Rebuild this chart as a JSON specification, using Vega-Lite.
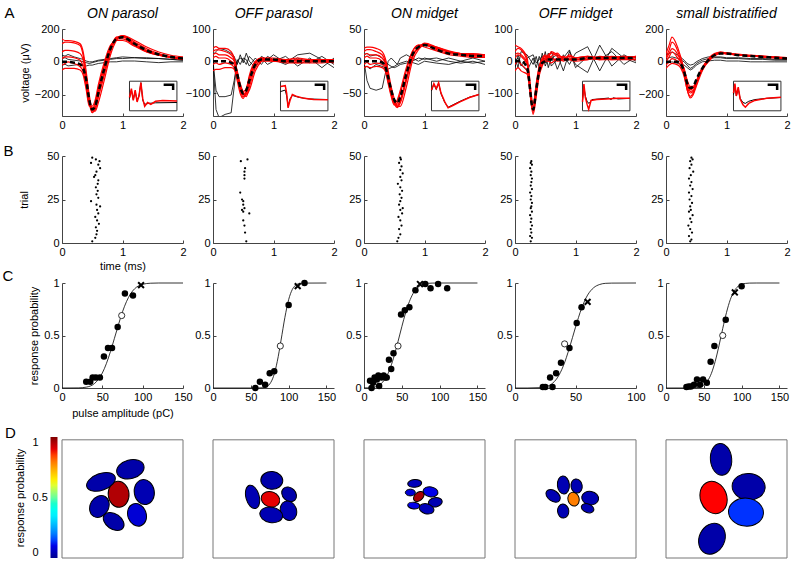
{
"$schema":"https://vega.github.io/schema/vega-lite/v6.json",
"background":"white",
"padding":{"left":2,"top":5,"right":2,"bottom":2},
"config":{
 "font":"Liberation Sans",
 "numberFormat":"~f",
 "view":{"stroke":null},
 "axis":{"grid":false,"domainColor":"#444","tickColor":"#444","labelColor":"#000","labelFontSize":11,"titleFontSize":11,"titleFontWeight":"normal","titleColor":"#000","tickSize":-3,"labelPadding":6,"labelFlush":false,"labelOverlap":false},
 "title":{"fontSize":14,"fontStyle":"italic","fontWeight":"normal","offset":2,"color":"#000","frame":"group"}
},
"datasets":{
"tr":[
{"p":1,"x":0,"m":0,"r1":110,"r2":60,"r3":-20,"r4":-50,"r5":140,"r6":20,"k1":20,"k2":-20,"k3":40},
{"p":1,"x":0.05,"m":0,"r1":120,"r2":70,"r3":-10,"r4":-40,"r5":130,"r6":30,"k1":25,"k2":-15,"k3":35},
{"p":1,"x":0.1,"m":0,"r1":120,"r2":70,"r3":0,"r4":-40,"r5":130,"r6":30,"k1":15,"k2":-25,"k3":45},
{"p":1,"x":0.2,"m":-5,"r1":115,"r2":65,"r3":-10,"r4":-40,"r5":125,"r6":25,"k1":10,"k2":-20,"k3":30},
{"p":1,"x":0.3,"m":-15,"r1":100,"r2":50,"r3":-30,"r4":-50,"r5":110,"r6":10,"k1":5,"k2":-15,"k3":20},
{"p":1,"x":0.35,"m":-40,"r1":40,"r2":10,"r3":-60,"r4":-80,"r5":60,"r6":-30,"k1":0,"k2":-20,"k3":15},
{"p":1,"x":0.4,"m":-110,"r1":-80,"r2":-100,"r3":-150,"r4":-170,"r5":-60,"r6":-120,"k1":-5,"k2":-25,"k3":5},
{"p":1,"x":0.45,"m":-230,"r1":-220,"r2":-240,"r3":-260,"r4":-270,"r5":-200,"r6":-250,"k1":-10,"k2":-20,"k3":0},
{"p":1,"x":0.5,"m":-290,"r1":-310,"r2":-300,"r3":-280,"r4":-270,"r5":-290,"r6":-310,"k1":-5,"k2":-20,"k3":0},
{"p":1,"x":0.55,"m":-270,"r1":-290,"r2":-280,"r3":-250,"r4":-230,"r5":-300,"r6":-260,"k1":0,"k2":-15,"k3":5},
{"p":1,"x":0.6,"m":-190,"r1":-220,"r2":-200,"r3":-160,"r4":-140,"r5":-250,"r6":-180,"k1":5,"k2":-10,"k3":10},
{"p":1,"x":0.7,"m":-40,"r1":-80,"r2":-60,"r3":-20,"r4":0,"r5":-110,"r6":-30,"k1":10,"k2":-5,"k3":15},
{"p":1,"x":0.8,"m":80,"r1":60,"r2":70,"r3":90,"r4":100,"r5":40,"r6":80,"k1":15,"k2":0,"k3":20},
{"p":1,"x":0.9,"m":140,"r1":140,"r2":150,"r3":140,"r4":130,"r5":130,"r6":150,"k1":20,"k2":0,"k3":25},
{"p":1,"x":1,"m":150,"r1":160,"r2":155,"r3":140,"r4":130,"r5":160,"r6":150,"k1":20,"k2":5,"k3":30},
{"p":1,"x":1.2,"m":110,"r1":120,"r2":110,"r3":100,"r4":95,"r5":130,"r6":105,"k1":25,"k2":5,"k3":25},
{"p":1,"x":1.4,"m":70,"r1":80,"r2":70,"r3":60,"r4":60,"r5":90,"r6":65,"k1":25,"k2":0,"k3":20},
{"p":1,"x":1.6,"m":45,"r1":50,"r2":45,"r3":40,"r4":40,"r5":60,"r6":40,"k1":20,"k2":-5,"k3":20},
{"p":1,"x":1.8,"m":30,"r1":30,"r2":30,"r3":25,"r4":30,"r5":40,"r6":25,"k1":15,"k2":0,"k3":15},
{"p":1,"x":2,"m":20,"r1":25,"r2":20,"r3":15,"r4":20,"r5":30,"r6":15,"k1":10,"k2":0,"k3":10},
{"p":2,"x":0,"m":0,"r1":30,"r2":-30,"r3":10,"r4":40,"r5":-10,"r6":20,"k1":0,"k2":0,"k3":20},
{"p":2,"x":0.05,"m":0,"r1":35,"r2":-25,"r3":15,"r4":45,"r5":-5,"r6":25,"k1":-90,"k2":-150,"k3":30},
{"p":2,"x":0.1,"m":0,"r1":35,"r2":-25,"r3":10,"r4":40,"r5":-10,"r6":20,"k1":-110,"k2":-175,"k3":40},
{"p":2,"x":0.2,"m":0,"r1":30,"r2":-20,"r3":10,"r4":40,"r5":-5,"r6":20,"k1":-110,"k2":-165,"k3":35},
{"p":2,"x":0.3,"m":-5,"r1":20,"r2":-20,"r3":0,"r4":30,"r5":-10,"r6":10,"k1":-105,"k2":-160,"k3":25},
{"p":2,"x":0.35,"m":-10,"r1":5,"r2":-25,"r3":-10,"r4":10,"r5":-20,"r6":0,"k1":-60,"k2":-80,"k3":15},
{"p":2,"x":0.4,"m":-40,"r1":-40,"r2":-50,"r3":-40,"r4":-30,"r5":-60,"r6":-35,"k1":0,"k2":5,"k3":-10},
{"p":2,"x":0.45,"m":-80,"r1":-90,"r2":-80,"r3":-80,"r4":-70,"r5":-100,"r6":-85,"k1":10,"k2":-10,"k3":20},
{"p":2,"x":0.5,"m":-100,"r1":-110,"r2":-100,"r3":-95,"r4":-95,"r5":-115,"r6":-105,"k1":5,"k2":10,"k3":-5},
{"p":2,"x":0.55,"m":-90,"r1":-100,"r2":-110,"r3":-85,"r4":-105,"r5":-90,"r6":-100,"k1":-10,"k2":5,"k3":25},
{"p":2,"x":0.6,"m":-60,"r1":-60,"r2":-80,"r3":-50,"r4":-90,"r5":-45,"r6":-70,"k1":15,"k2":-15,"k3":0},
{"p":2,"x":0.7,"m":-10,"r1":-5,"r2":-20,"r3":-5,"r4":-30,"r5":0,"r6":-10,"k1":-5,"k2":10,"k3":-20},
{"p":2,"x":0.8,"m":5,"r1":10,"r2":0,"r3":10,"r4":0,"r5":10,"r6":5,"k1":10,"k2":-10,"k3":15},
{"p":2,"x":0.9,"m":5,"r1":10,"r2":0,"r3":5,"r4":10,"r5":5,"r6":5,"k1":-10,"k2":15,"k3":5},
{"p":2,"x":1,"m":5,"r1":5,"r2":0,"r3":5,"r4":10,"r5":0,"r6":0,"k1":0,"k2":5,"k3":20},
{"p":2,"x":1.2,"m":0,"r1":5,"r2":-5,"r3":0,"r4":5,"r5":0,"r6":5,"k1":15,"k2":-10,"k3":-5},
{"p":2,"x":1.4,"m":0,"r1":0,"r2":-5,"r3":5,"r4":10,"r5":-5,"r6":0,"k1":-15,"k2":10,"k3":20},
{"p":2,"x":1.6,"m":0,"r1":5,"r2":0,"r3":0,"r4":5,"r5":-5,"r6":5,"k1":10,"k2":-5,"k3":25},
{"p":2,"x":1.8,"m":0,"r1":0,"r2":0,"r3":5,"r4":5,"r5":-5,"r6":0,"k1":-20,"k2":15,"k3":5},
{"p":2,"x":2,"m":0,"r1":5,"r2":-5,"r3":0,"r4":5,"r5":0,"r6":0,"k1":10,"k2":-10,"k3":-20},
{"p":3,"x":0,"m":0,"r1":15,"r2":-10,"r3":5,"r4":20,"r5":-5,"r6":10,"k1":0,"k2":10,"k3":-10},
{"p":3,"x":0.05,"m":0,"r1":18,"r2":-8,"r3":8,"r4":22,"r5":-2,"r6":12,"k1":-30,"k2":12,"k3":-8},
{"p":3,"x":0.1,"m":0,"r1":18,"r2":-10,"r3":5,"r4":22,"r5":-5,"r6":10,"k1":-42,"k2":8,"k3":-12},
{"p":3,"x":0.2,"m":0,"r1":15,"r2":-8,"r3":5,"r4":20,"r5":-3,"r6":10,"k1":-45,"k2":10,"k3":-5},
{"p":3,"x":0.3,"m":-2,"r1":10,"r2":-10,"r3":0,"r4":15,"r5":-5,"r6":5,"k1":-42,"k2":5,"k3":-8},
{"p":3,"x":0.35,"m":-8,"r1":0,"r2":-15,"r3":-8,"r4":5,"r5":-12,"r6":-3,"k1":-20,"k2":0,"k3":-10},
{"p":3,"x":0.4,"m":-25,"r1":-20,"r2":-35,"r3":-28,"r4":-15,"r5":-32,"r6":-22,"k1":0,"k2":-5,"k3":-12},
{"p":3,"x":0.45,"m":-45,"r1":-45,"r2":-55,"r3":-50,"r4":-40,"r5":-52,"r6":-48,"k1":5,"k2":-8,"k3":-10},
{"p":3,"x":0.5,"m":-60,"r1":-65,"r2":-68,"r3":-62,"r4":-58,"r5":-66,"r6":-64,"k1":0,"k2":-10,"k3":-8},
{"p":3,"x":0.55,"m":-65,"r1":-72,"r2":-65,"r3":-68,"r4":-70,"r5":-60,"r6":-70,"k1":-5,"k2":-8,"k3":-5},
{"p":3,"x":0.6,"m":-55,"r1":-65,"r2":-50,"r3":-60,"r4":-70,"r5":-45,"r6":-62,"k1":5,"k2":-5,"k3":-3},
{"p":3,"x":0.7,"m":-20,"r1":-30,"r2":-15,"r3":-25,"r4":-40,"r5":-10,"r6":-28,"k1":10,"k2":-3,"k3":0},
{"p":3,"x":0.8,"m":10,"r1":5,"r2":15,"r3":8,"r4":0,"r5":15,"r6":8,"k1":5,"k2":0,"k3":-2},
{"p":3,"x":0.9,"m":22,"r1":22,"r2":25,"r3":20,"r4":18,"r5":25,"r6":22,"k1":0,"k2":5,"k3":-5},
{"p":3,"x":1,"m":25,"r1":27,"r2":25,"r3":28,"r4":25,"r5":22,"r6":26,"k1":5,"k2":3,"k3":0},
{"p":3,"x":1.2,"m":18,"r1":20,"r2":18,"r3":22,"r4":22,"r5":16,"r6":20,"k1":0,"k2":5,"k3":-3},
{"p":3,"x":1.4,"m":12,"r1":15,"r2":12,"r3":15,"r4":16,"r5":10,"r6":14,"k1":5,"k2":0,"k3":-5},
{"p":3,"x":1.6,"m":10,"r1":12,"r2":10,"r3":12,"r4":12,"r5":8,"r6":10,"k1":0,"k2":-3,"k3":0},
{"p":3,"x":1.8,"m":8,"r1":10,"r2":8,"r3":12,"r4":10,"r5":6,"r6":10,"k1":5,"k2":0,"k3":-3},
{"p":3,"x":2,"m":8,"r1":10,"r2":8,"r3":10,"r4":10,"r5":6,"r6":8,"k1":0,"k2":-5,"k3":0},
{"p":4,"x":0,"m":0,"r1":30,"r2":-30,"r3":10,"r4":50,"r5":-10,"r6":20,"k1":10,"k2":-20,"k3":0},
{"p":4,"x":0.05,"m":0,"r1":40,"r2":-20,"r3":20,"r4":45,"r5":0,"r6":25,"k1":-20,"k2":20,"k3":10},
{"p":4,"x":0.1,"m":0,"r1":35,"r2":-30,"r3":15,"r4":40,"r5":-10,"r6":20,"k1":30,"k2":-10,"k3":-15},
{"p":4,"x":0.2,"m":-20,"r1":0,"r2":-40,"r3":-10,"r4":10,"r5":-30,"r6":-5,"k1":20,"k2":-30,"k3":10},
{"p":4,"x":0.3,"m":-150,"r1":-160,"r2":-140,"r3":-155,"r4":-130,"r5":-165,"r6":-145,"k1":-10,"k2":10,"k3":20},
{"p":4,"x":0.35,"m":-90,"r1":-100,"r2":-70,"r3":-95,"r4":-80,"r5":-110,"r6":-85,"k1":15,"k2":-20,"k3":-5},
{"p":4,"x":0.4,"m":-30,"r1":-30,"r2":-15,"r3":-35,"r4":-20,"r5":-45,"r6":-25,"k1":-20,"k2":15,"k3":5},
{"p":4,"x":0.45,"m":-5,"r1":0,"r2":5,"r3":-10,"r4":10,"r5":-15,"r6":0,"k1":25,"k2":-10,"k3":15},
{"p":4,"x":0.5,"m":0,"r1":10,"r2":15,"r3":5,"r4":20,"r5":0,"r6":5,"k1":-15,"k2":30,"k3":-5},
{"p":4,"x":0.55,"m":5,"r1":15,"r2":5,"r3":20,"r4":10,"r5":0,"r6":10,"k1":10,"k2":-20,"k3":25},
{"p":4,"x":0.6,"m":5,"r1":10,"r2":10,"r3":25,"r4":30,"r5":-5,"r6":15,"k1":30,"k2":10,"k3":-15},
{"p":4,"x":0.7,"m":5,"r1":5,"r2":0,"r3":15,"r4":20,"r5":10,"r6":25,"k1":-25,"k2":20,"k3":5},
{"p":4,"x":0.8,"m":5,"r1":10,"r2":5,"r3":0,"r4":10,"r5":15,"r6":5,"k1":20,"k2":-30,"k3":10},
{"p":4,"x":0.9,"m":5,"r1":5,"r2":10,"r3":10,"r4":15,"r5":5,"r6":20,"k1":-10,"k2":30,"k3":35},
{"p":4,"x":1,"m":5,"r1":10,"r2":5,"r3":5,"r4":10,"r5":0,"r6":10,"k1":25,"k2":-10,"k3":-20},
{"p":4,"x":1.2,"m":10,"r1":15,"r2":10,"r3":5,"r4":10,"r5":5,"r6":15,"k1":45,"k2":-35,"k3":15},
{"p":4,"x":1.4,"m":10,"r1":10,"r2":5,"r3":15,"r4":5,"r5":10,"r6":10,"k1":-30,"k2":50,"k3":5},
{"p":4,"x":1.6,"m":10,"r1":15,"r2":10,"r3":10,"r4":5,"r5":5,"r6":10,"k1":40,"k2":-15,"k3":30},
{"p":4,"x":1.8,"m":10,"r1":10,"r2":15,"r3":10,"r4":10,"r5":5,"r6":15,"k1":10,"k2":20,"k3":-10},
{"p":4,"x":2,"m":10,"r1":15,"r2":10,"r3":5,"r4":15,"r5":5,"r6":10,"k1":-5,"k2":0,"k3":15},
{"p":5,"x":0,"m":0,"r1":50,"r2":30,"r3":-20,"r4":0,"r5":-40,"r6":20,"k1":20,"k2":-10,"k3":40},
{"p":5,"x":0.05,"m":0,"r1":100,"r2":70,"r3":0,"r4":30,"r5":-20,"r6":50,"k1":25,"k2":-5,"k3":50},
{"p":5,"x":0.1,"m":0,"r1":150,"r2":120,"r3":20,"r4":60,"r5":-10,"r6":80,"k1":30,"k2":0,"k3":60},
{"p":5,"x":0.2,"m":0,"r1":80,"r2":60,"r3":0,"r4":20,"r5":-20,"r6":40,"k1":20,"k2":-10,"k3":40},
{"p":5,"x":0.3,"m":-60,"r1":-50,"r2":-80,"r3":-70,"r4":-40,"r5":-90,"r6":-60,"k1":0,"k2":-20,"k3":10},
{"p":5,"x":0.35,"m":-130,"r1":-150,"r2":-170,"r3":-140,"r4":-110,"r5":-170,"r6":-130,"k1":-20,"k2":-35,"k3":-10},
{"p":5,"x":0.4,"m":-160,"r1":-190,"r2":-210,"r3":-170,"r4":-150,"r5":-220,"r6":-180,"k1":-40,"k2":-50,"k3":-20},
{"p":5,"x":0.45,"m":-150,"r1":-180,"r2":-190,"r3":-160,"r4":-150,"r5":-200,"r6":-175,"k1":-30,"k2":-40,"k3":-15},
{"p":5,"x":0.5,"m":-110,"r1":-130,"r2":-140,"r3":-120,"r4":-120,"r5":-150,"r6":-130,"k1":-10,"k2":-20,"k3":0},
{"p":5,"x":0.55,"m":-70,"r1":-80,"r2":-90,"r3":-70,"r4":-80,"r5":-100,"r6":-80,"k1":0,"k2":-10,"k3":10},
{"p":5,"x":0.6,"m":-40,"r1":-40,"r2":-50,"r3":-35,"r4":-45,"r5":-55,"r6":-40,"k1":10,"k2":0,"k3":20},
{"p":5,"x":0.7,"m":10,"r1":20,"r2":10,"r3":15,"r4":0,"r5":5,"r6":15,"k1":20,"k2":5,"k3":30},
{"p":5,"x":0.8,"m":40,"r1":50,"r2":40,"r3":45,"r4":35,"r5":45,"r6":45,"k1":25,"k2":10,"k3":30},
{"p":5,"x":0.9,"m":50,"r1":60,"r2":55,"r3":55,"r4":50,"r5":60,"r6":55,"k1":25,"k2":10,"k3":30},
{"p":5,"x":1,"m":50,"r1":55,"r2":50,"r3":50,"r4":50,"r5":55,"r6":50,"k1":20,"k2":5,"k3":25},
{"p":5,"x":1.2,"m":40,"r1":45,"r2":40,"r3":40,"r4":40,"r5":45,"r6":40,"k1":20,"k2":5,"k3":25},
{"p":5,"x":1.4,"m":35,"r1":40,"r2":35,"r3":35,"r4":35,"r5":40,"r6":35,"k1":15,"k2":0,"k3":20},
{"p":5,"x":1.6,"m":30,"r1":35,"r2":30,"r3":30,"r4":30,"r5":35,"r6":30,"k1":15,"k2":0,"k3":20},
{"p":5,"x":1.8,"m":25,"r1":30,"r2":25,"r3":25,"r4":25,"r5":30,"r6":25,"k1":10,"k2":0,"k3":15},
{"p":5,"x":2,"m":20,"r1":25,"r2":25,"r3":20,"r4":20,"r5":25,"r6":20,"k1":10,"k2":0,"k3":15}
],
"ins":[
{"p":1,"g":"r","u":0,"v":0.45},{"p":1,"g":"r","u":0.04,"v":0.75},{"p":1,"g":"r","u":0.08,"v":0.35},{"p":1,"g":"r","u":0.12,"v":0.7},{"p":1,"g":"r","u":0.16,"v":0.3},{"p":1,"g":"r","u":0.2,"v":0.5},{"p":1,"g":"r","u":0.24,"v":0.95},{"p":1,"g":"r","u":0.28,"v":0.4},{"p":1,"g":"r","u":0.32,"v":0.15},{"p":1,"g":"r","u":0.38,"v":0.28},{"p":1,"g":"r","u":0.45,"v":0.22},{"p":1,"g":"r","u":0.55,"v":0.32},{"p":1,"g":"r","u":0.7,"v":0.35},{"p":1,"g":"r","u":1,"v":0.33},
{"p":1,"g":"k","u":0,"v":0.42},{"p":1,"g":"k","u":0.04,"v":0.7},{"p":1,"g":"k","u":0.08,"v":0.38},{"p":1,"g":"k","u":0.12,"v":0.65},{"p":1,"g":"k","u":0.16,"v":0.35},{"p":1,"g":"k","u":0.2,"v":0.5},{"p":1,"g":"k","u":0.24,"v":0.95},{"p":1,"g":"k","u":0.28,"v":0.35},{"p":1,"g":"k","u":0.32,"v":0.22},{"p":1,"g":"k","u":0.4,"v":0.25},{"p":1,"g":"k","u":0.55,"v":0.27},{"p":1,"g":"k","u":1,"v":0.28},
{"p":2,"g":"r","u":0,"v":0.82},{"p":2,"g":"r","u":0.1,"v":0.85},{"p":2,"g":"r","u":0.13,"v":0.6},{"p":2,"g":"r","u":0.16,"v":0.1},{"p":2,"g":"r","u":0.2,"v":0.35},{"p":2,"g":"r","u":0.25,"v":0.55},{"p":2,"g":"r","u":0.35,"v":0.48},{"p":2,"g":"r","u":0.5,"v":0.42},{"p":2,"g":"r","u":0.7,"v":0.38},{"p":2,"g":"r","u":1,"v":0.37},
{"p":2,"g":"k","u":0,"v":0.65},{"p":2,"g":"k","u":0.1,"v":0.7},{"p":2,"g":"k","u":0.13,"v":0.5},{"p":2,"g":"k","u":0.16,"v":0.15},{"p":2,"g":"k","u":0.2,"v":0.4},{"p":2,"g":"k","u":0.25,"v":0.52},{"p":2,"g":"k","u":0.4,"v":0.45},{"p":2,"g":"k","u":0.6,"v":0.4},{"p":2,"g":"k","u":1,"v":0.38},
{"p":3,"g":"r","u":0,"v":0.7},{"p":3,"g":"r","u":0.05,"v":0.92},{"p":3,"g":"r","u":0.1,"v":0.75},{"p":3,"g":"r","u":0.15,"v":0.95},{"p":3,"g":"r","u":0.2,"v":0.6},{"p":3,"g":"r","u":0.28,"v":0.3},{"p":3,"g":"r","u":0.35,"v":0.1},{"p":3,"g":"r","u":0.45,"v":0.18},{"p":3,"g":"r","u":0.6,"v":0.3},{"p":3,"g":"r","u":0.8,"v":0.45},{"p":3,"g":"r","u":1,"v":0.55},
{"p":3,"g":"k","u":0,"v":0.68},{"p":3,"g":"k","u":0.05,"v":0.9},{"p":3,"g":"k","u":0.1,"v":0.72},{"p":3,"g":"k","u":0.15,"v":0.93},{"p":3,"g":"k","u":0.2,"v":0.58},{"p":3,"g":"k","u":0.28,"v":0.28},{"p":3,"g":"k","u":0.35,"v":0.12},{"p":3,"g":"k","u":0.45,"v":0.2},{"p":3,"g":"k","u":0.6,"v":0.32},{"p":3,"g":"k","u":0.8,"v":0.46},{"p":3,"g":"k","u":1,"v":0.55},
{"p":4,"g":"r","u":0,"v":0.3},{"p":4,"g":"r","u":0.03,"v":0.9},{"p":4,"g":"r","u":0.06,"v":0.45},{"p":4,"g":"r","u":0.1,"v":0.2},{"p":4,"g":"r","u":0.13,"v":0.05},{"p":4,"g":"r","u":0.18,"v":0.35},{"p":4,"g":"r","u":0.3,"v":0.38},{"p":4,"g":"r","u":0.5,"v":0.4},{"p":4,"g":"r","u":0.75,"v":0.42},{"p":4,"g":"r","u":1,"v":0.42},
{"p":4,"g":"k","u":0,"v":0.35},{"p":4,"g":"k","u":0.03,"v":0.8},{"p":4,"g":"k","u":0.06,"v":0.5},{"p":4,"g":"k","u":0.1,"v":0.3},{"p":4,"g":"k","u":0.14,"v":0.25},{"p":4,"g":"k","u":0.2,"v":0.38},{"p":4,"g":"k","u":0.35,"v":0.4},{"p":4,"g":"k","u":0.55,"v":0.43},{"p":4,"g":"k","u":0.6,"v":0.38},{"p":4,"g":"k","u":0.65,"v":0.44},{"p":4,"g":"k","u":0.75,"v":0.4},{"p":4,"g":"k","u":1,"v":0.42},
{"p":5,"g":"r","u":0,"v":0.6},{"p":5,"g":"r","u":0.03,"v":0.92},{"p":5,"g":"r","u":0.06,"v":0.5},{"p":5,"g":"r","u":0.1,"v":0.8},{"p":5,"g":"r","u":0.14,"v":0.4},{"p":5,"g":"r","u":0.2,"v":0.2},{"p":5,"g":"r","u":0.25,"v":0.12},{"p":5,"g":"r","u":0.32,"v":0.25},{"p":5,"g":"r","u":0.45,"v":0.35},{"p":5,"g":"r","u":0.7,"v":0.42},{"p":5,"g":"r","u":1,"v":0.46},
{"p":5,"g":"k","u":0,"v":0.55},{"p":5,"g":"k","u":0.03,"v":0.85},{"p":5,"g":"k","u":0.06,"v":0.5},{"p":5,"g":"k","u":0.1,"v":0.75},{"p":5,"g":"k","u":0.14,"v":0.42},{"p":5,"g":"k","u":0.2,"v":0.28},{"p":5,"g":"k","u":0.25,"v":0.25},{"p":5,"g":"k","u":0.32,"v":0.32},{"p":5,"g":"k","u":0.45,"v":0.38},{"p":5,"g":"k","u":0.7,"v":0.42},{"p":5,"g":"k","u":1,"v":0.45},
{"p":1,"g":"s","u":0.72,"v":0.88},{"p":1,"g":"s","u":0.92,"v":0.88},{"p":1,"g":"s","u":0.92,"v":0.7},
{"p":2,"g":"s","u":0.72,"v":0.88},{"p":2,"g":"s","u":0.92,"v":0.88},{"p":2,"g":"s","u":0.92,"v":0.7},
{"p":3,"g":"s","u":0.72,"v":0.88},{"p":3,"g":"s","u":0.92,"v":0.88},{"p":3,"g":"s","u":0.92,"v":0.7},
{"p":4,"g":"s","u":0.72,"v":0.88},{"p":4,"g":"s","u":0.92,"v":0.88},{"p":4,"g":"s","u":0.92,"v":0.7},
{"p":5,"g":"s","u":0.72,"v":0.88},{"p":5,"g":"s","u":0.92,"v":0.88},{"p":5,"g":"s","u":0.92,"v":0.7}
],
"ras":[
{"p":1,"n":1,"t":0.5},{"p":1,"n":3,"t":0.55},{"p":1,"n":5,"t":0.57},{"p":1,"n":7,"t":0.58},{"p":1,"n":9,"t":0.56},{"p":1,"n":11,"t":0.61},{"p":1,"n":13,"t":0.58},{"p":1,"n":15,"t":0.55},{"p":1,"n":17,"t":0.6},{"p":1,"n":19,"t":0.58},{"p":1,"n":21,"t":0.63},{"p":1,"n":22,"t":0.57},{"p":1,"n":24,"t":0.48},{"p":1,"n":26,"t":0.6},{"p":1,"n":28,"t":0.57},{"p":1,"n":30,"t":0.59},{"p":1,"n":32,"t":0.56},{"p":1,"n":34,"t":0.59},{"p":1,"n":36,"t":0.6},{"p":1,"n":38,"t":0.53},{"p":1,"n":39,"t":0.55},{"p":1,"n":41,"t":0.57},{"p":1,"n":43,"t":0.63},{"p":1,"n":45,"t":0.6},{"p":1,"n":46,"t":0.48},{"p":1,"n":47,"t":0.62},{"p":1,"n":48,"t":0.56},{"p":1,"n":49,"t":0.5},
{"p":2,"n":1,"t":0.55},{"p":2,"n":6,"t":0.53},{"p":2,"n":10,"t":0.52},{"p":2,"n":13,"t":0.5},{"p":2,"n":17,"t":0.6},{"p":2,"n":18,"t":0.5},{"p":2,"n":19,"t":0.48},{"p":2,"n":20,"t":0.52},{"p":2,"n":22,"t":0.5},{"p":2,"n":24,"t":0.5},{"p":2,"n":25,"t":0.48},{"p":2,"n":29,"t":0.45},{"p":2,"n":37,"t":0.52},{"p":2,"n":39,"t":0.52},{"p":2,"n":41,"t":0.52},{"p":2,"n":43,"t":0.53},{"p":2,"n":47,"t":0.46},{"p":2,"n":48,"t":0.57},
{"p":3,"n":1,"t":0.55},{"p":3,"n":3,"t":0.57},{"p":3,"n":5,"t":0.6},{"p":3,"n":8,"t":0.58},{"p":3,"n":10,"t":0.62},{"p":3,"n":13,"t":0.6},{"p":3,"n":15,"t":0.57},{"p":3,"n":17,"t":0.63},{"p":3,"n":19,"t":0.6},{"p":3,"n":20,"t":0.64},{"p":3,"n":22,"t":0.58},{"p":3,"n":24,"t":0.6},{"p":3,"n":26,"t":0.62},{"p":3,"n":28,"t":0.59},{"p":3,"n":30,"t":0.63},{"p":3,"n":32,"t":0.6},{"p":3,"n":34,"t":0.56},{"p":3,"n":36,"t":0.62},{"p":3,"n":38,"t":0.6},{"p":3,"n":40,"t":0.64},{"p":3,"n":42,"t":0.6},{"p":3,"n":44,"t":0.62},{"p":3,"n":46,"t":0.58},{"p":3,"n":48,"t":0.61},{"p":3,"n":49,"t":0.6},
{"p":4,"n":1,"t":0.26},{"p":4,"n":3,"t":0.28},{"p":4,"n":4,"t":0.25},{"p":4,"n":6,"t":0.27},{"p":4,"n":8,"t":0.26},{"p":4,"n":10,"t":0.28},{"p":4,"n":12,"t":0.26},{"p":4,"n":14,"t":0.27},{"p":4,"n":16,"t":0.25},{"p":4,"n":18,"t":0.28},{"p":4,"n":20,"t":0.26},{"p":4,"n":21,"t":0.27},{"p":4,"n":23,"t":0.28},{"p":4,"n":25,"t":0.26},{"p":4,"n":27,"t":0.27},{"p":4,"n":29,"t":0.25},{"p":4,"n":31,"t":0.28},{"p":4,"n":33,"t":0.26},{"p":4,"n":35,"t":0.27},{"p":4,"n":37,"t":0.28},{"p":4,"n":39,"t":0.26},{"p":4,"n":41,"t":0.27},{"p":4,"n":43,"t":0.25},{"p":4,"n":45,"t":0.28},{"p":4,"n":46,"t":0.26},{"p":4,"n":47,"t":0.27},
{"p":5,"n":1,"t":0.4},{"p":5,"n":2,"t":0.42},{"p":5,"n":4,"t":0.38},{"p":5,"n":6,"t":0.43},{"p":5,"n":8,"t":0.4},{"p":5,"n":10,"t":0.37},{"p":5,"n":12,"t":0.42},{"p":5,"n":14,"t":0.4},{"p":5,"n":16,"t":0.44},{"p":5,"n":18,"t":0.38},{"p":5,"n":19,"t":0.41},{"p":5,"n":21,"t":0.4},{"p":5,"n":23,"t":0.43},{"p":5,"n":25,"t":0.39},{"p":5,"n":27,"t":0.42},{"p":5,"n":29,"t":0.38},{"p":5,"n":31,"t":0.44},{"p":5,"n":33,"t":0.4},{"p":5,"n":35,"t":0.42},{"p":5,"n":37,"t":0.38},{"p":5,"n":39,"t":0.41},{"p":5,"n":41,"t":0.45},{"p":5,"n":43,"t":0.39},{"p":5,"n":45,"t":0.42},{"p":5,"n":47,"t":0.4},{"p":5,"n":48,"t":0.44},{"p":5,"n":49,"t":0.42}
],
"fit":[
{"p":1,"x":0,"y":0},{"p":1,"x":20,"y":0.001},{"p":1,"x":30,"y":0.008},{"p":1,"x":40,"y":0.041},{"p":1,"x":45,"y":0.081},{"p":1,"x":50,"y":0.143},{"p":1,"x":55,"y":0.232},{"p":1,"x":60,"y":0.345},{"p":1,"x":65,"y":0.473},{"p":1,"x":70,"y":0.603},{"p":1,"x":75,"y":0.726},{"p":1,"x":80,"y":0.824},{"p":1,"x":85,"y":0.897},{"p":1,"x":90,"y":0.945},{"p":1,"x":95,"y":0.973},{"p":1,"x":100,"y":0.988},{"p":1,"x":110,"y":0.998},{"p":1,"x":120,"y":1},{"p":1,"x":150,"y":1},
{"p":2,"x":0,"y":0},{"p":2,"x":50,"y":0},{"p":2,"x":60,"y":0.0003},{"p":2,"x":65,"y":0.002},{"p":2,"x":70,"y":0.01},{"p":2,"x":75,"y":0.038},{"p":2,"x":80,"y":0.111},{"p":2,"x":85,"y":0.253},{"p":2,"x":90,"y":0.456},{"p":2,"x":95,"y":0.67},{"p":2,"x":100,"y":0.841},{"p":2,"x":105,"y":0.94},{"p":2,"x":110,"y":0.983},{"p":2,"x":115,"y":0.996},{"p":2,"x":120,"y":0.999},{"p":2,"x":150,"y":1},
{"p":3,"x":0,"y":0.0004},{"p":3,"x":10,"y":0.004},{"p":3,"x":15,"y":0.011},{"p":3,"x":20,"y":0.027},{"p":3,"x":25,"y":0.058},{"p":3,"x":30,"y":0.112},{"p":3,"x":35,"y":0.196},{"p":3,"x":40,"y":0.309},{"p":3,"x":45,"y":0.443},{"p":3,"x":50,"y":0.584},{"p":3,"x":55,"y":0.716},{"p":3,"x":60,"y":0.823},{"p":3,"x":65,"y":0.901},{"p":3,"x":70,"y":0.95},{"p":3,"x":75,"y":0.977},{"p":3,"x":80,"y":0.991},{"p":3,"x":90,"y":0.999},{"p":3,"x":100,"y":1},{"p":3,"x":150,"y":1},
{"p":4,"x":0,"y":0},{"p":4,"x":10,"y":0},{"p":4,"x":20,"y":0.003},{"p":4,"x":25,"y":0.011},{"p":4,"x":30,"y":0.036},{"p":4,"x":35,"y":0.097},{"p":4,"x":40,"y":0.212},{"p":4,"x":45,"y":0.382},{"p":4,"x":50,"y":0.579},{"p":4,"x":55,"y":0.758},{"p":4,"x":60,"y":0.885},{"p":4,"x":65,"y":0.955},{"p":4,"x":70,"y":0.986},{"p":4,"x":75,"y":0.997},{"p":4,"x":80,"y":0.999},{"p":4,"x":100,"y":1},
{"p":5,"x":0,"y":0},{"p":5,"x":30,"y":0.0002},{"p":5,"x":40,"y":0.003},{"p":5,"x":45,"y":0.01},{"p":5,"x":50,"y":0.028},{"p":5,"x":55,"y":0.067},{"p":5,"x":60,"y":0.139},{"p":5,"x":65,"y":0.252},{"p":5,"x":70,"y":0.401},{"p":5,"x":75,"y":0.566},{"p":5,"x":80,"y":0.719},{"p":5,"x":85,"y":0.841},{"p":5,"x":90,"y":0.921},{"p":5,"x":95,"y":0.967},{"p":5,"x":100,"y":0.988},{"p":5,"x":105,"y":0.996},{"p":5,"x":110,"y":0.999},{"p":5,"x":120,"y":1},{"p":5,"x":150,"y":1}
],
"pts":[
{"p":1,"k":"f","x":30,"y":0.06},{"p":1,"k":"f","x":35,"y":0.06},{"p":1,"k":"f","x":38,"y":0.1},{"p":1,"k":"f","x":42,"y":0.1},{"p":1,"k":"f","x":47,"y":0.1},{"p":1,"k":"f","x":52,"y":0.3},{"p":1,"k":"f","x":57,"y":0.38},{"p":1,"k":"f","x":62,"y":0.38},{"p":1,"k":"f","x":69,"y":0.58},{"p":1,"k":"f","x":78,"y":0.9},{"p":1,"k":"f","x":88,"y":0.88},{"p":1,"k":"o","x":74,"y":0.69},{"p":1,"k":"x","x":98,"y":0.98},
{"p":2,"k":"f","x":56,"y":0},{"p":2,"k":"f","x":62,"y":0.06},{"p":2,"k":"f","x":69,"y":0.03},{"p":2,"k":"f","x":75,"y":0.14},{"p":2,"k":"f","x":81,"y":0.16},{"p":2,"k":"f","x":100,"y":0.79},{"p":2,"k":"f","x":121,"y":1},{"p":2,"k":"o","x":89,"y":0.4},{"p":2,"k":"x","x":112,"y":0.97},
{"p":3,"k":"f","x":8,"y":0.07},{"p":3,"k":"f","x":10,"y":0},{"p":3,"k":"f","x":12,"y":0.05},{"p":3,"k":"f","x":14,"y":0.1},{"p":3,"k":"f","x":17,"y":0.08},{"p":3,"k":"f","x":19,"y":0.12},{"p":3,"k":"f","x":20,"y":0.02},{"p":3,"k":"f","x":23,"y":0.1},{"p":3,"k":"f","x":26,"y":0.12},{"p":3,"k":"f","x":28,"y":0.1},{"p":3,"k":"f","x":30,"y":0.1},{"p":3,"k":"f","x":33,"y":0.27},{"p":3,"k":"f","x":36,"y":0.18},{"p":3,"k":"f","x":39,"y":0.33},{"p":3,"k":"f","x":49,"y":0.7},{"p":3,"k":"f","x":54,"y":0.74},{"p":3,"k":"f","x":60,"y":0.77},{"p":3,"k":"f","x":68,"y":0.93},{"p":3,"k":"f","x":81,"y":0.99},{"p":3,"k":"f","x":88,"y":0.95},{"p":3,"k":"f","x":98,"y":0.99},{"p":3,"k":"f","x":110,"y":0.95},{"p":3,"k":"o","x":45,"y":0.4},{"p":3,"k":"x","x":74,"y":0.99},
{"p":4,"k":"f","x":23,"y":0.01},{"p":4,"k":"f","x":25,"y":0.01},{"p":4,"k":"f","x":29,"y":0.1},{"p":4,"k":"f","x":31,"y":0.01},{"p":4,"k":"f","x":34,"y":0.14},{"p":4,"k":"f","x":38,"y":0.24},{"p":4,"k":"f","x":45,"y":0.38},{"p":4,"k":"f","x":51,"y":0.62},{"p":4,"k":"f","x":55,"y":0.77},{"p":4,"k":"o","x":41,"y":0.42},{"p":4,"k":"x","x":60,"y":0.82},
{"p":5,"k":"f","x":27,"y":0.01},{"p":5,"k":"f","x":30,"y":0.015},{"p":5,"k":"f","x":33,"y":0.015},{"p":5,"k":"f","x":37,"y":0.03},{"p":5,"k":"f","x":41,"y":0.08},{"p":5,"k":"f","x":45,"y":0.03},{"p":5,"k":"f","x":49,"y":0.08},{"p":5,"k":"f","x":54,"y":0.05},{"p":5,"k":"f","x":59,"y":0.25},{"p":5,"k":"f","x":64,"y":0.4},{"p":5,"k":"f","x":79,"y":0.65},{"p":5,"k":"f","x":100,"y":0.97},{"p":5,"k":"o","x":75,"y":0.5},{"p":5,"k":"x","x":91,"y":0.91}
],
"ell":[
{"p":1,"u":0.468,"v":0.539,"d":0.215,"r":"1.25","a":85,"c":0.95},
{"p":1,"u":0.565,"v":0.751,"d":0.231,"r":"1.5","a":-15,"c":0.03},
{"p":1,"u":0.322,"v":0.644,"d":0.248,"r":"1.8","a":-20,"c":0.03},
{"p":1,"u":0.68,"v":0.558,"d":0.207,"r":"1.25","a":80,"c":0.04},
{"p":1,"u":0.309,"v":0.436,"d":0.19,"r":"1.25","a":-60,"c":0.03},
{"p":1,"u":0.62,"v":0.365,"d":0.19,"r":"1.25","a":70,"c":0.08},
{"p":1,"u":0.427,"v":0.309,"d":0.19,"r":"1.5","a":35,"c":0.03},
{"p":2,"u":0.475,"v":0.497,"d":0.157,"r":"1.25","a":20,"c":0.9},
{"p":2,"u":0.486,"v":0.657,"d":0.182,"r":"1.25","a":5,"c":0.03},
{"p":2,"u":0.327,"v":0.517,"d":0.198,"r":"1.8","a":75,"c":0.04},
{"p":2,"u":0.629,"v":0.539,"d":0.135,"r":"1.25","a":45,"c":0.03},
{"p":2,"u":0.624,"v":0.4,"d":0.165,"r":"1.25","a":70,"c":0.04},
{"p":2,"u":0.481,"v":0.365,"d":0.19,"r":"1.5","a":10,"c":0.04},
{"p":3,"u":0.453,"v":0.52,"d":0.1,"r":"1.5","a":-40,"c":0.96},
{"p":3,"u":0.419,"v":0.631,"d":0.116,"r":"1.8","a":-5,"c":0.05},
{"p":3,"u":0.383,"v":0.554,"d":0.083,"r":"1.5","a":0,"c":0.08},
{"p":3,"u":0.55,"v":0.56,"d":0.124,"r":"1.5","a":10,"c":0.1},
{"p":3,"u":0.589,"v":0.471,"d":0.116,"r":"1.5","a":-10,"c":0.04},
{"p":3,"u":0.411,"v":0.444,"d":0.1,"r":"1.8","a":5,"c":0.1},
{"p":3,"u":0.517,"v":0.416,"d":0.124,"r":"1.5","a":15,"c":0.05},
{"p":4,"u":0.484,"v":0.498,"d":0.116,"r":"1.25","a":75,"c":0.79},
{"p":4,"u":0.4,"v":0.617,"d":0.149,"r":"1.5","a":85,"c":0.04},
{"p":4,"u":0.509,"v":0.609,"d":0.116,"r":"1.25","a":80,"c":0.04},
{"p":4,"u":0.315,"v":0.526,"d":0.132,"r":"1.5","a":35,"c":0.04},
{"p":4,"u":0.621,"v":0.507,"d":0.14,"r":"1.25","a":10,"c":0.04},
{"p":4,"u":0.398,"v":0.397,"d":0.116,"r":"1.25","a":85,"c":0.04},
{"p":4,"u":0.6,"v":0.421,"d":0.107,"r":"1.5","a":20,"c":0.04},
{"p":5,"u":0.455,"v":0.835,"d":0.264,"r":"1.5","a":85,"c":0.03},
{"p":5,"u":0.393,"v":0.512,"d":0.273,"r":"1.25","a":70,"c":0.875},
{"p":5,"u":0.683,"v":0.603,"d":0.273,"r":"1.25","a":5,"c":0.03},
{"p":5,"u":0.661,"v":0.388,"d":0.289,"r":"1.25","a":5,"c":0.14},
{"p":5,"u":0.38,"v":0.163,"d":0.264,"r":"1.25","a":-65,"c":0.03}
]
},
"columns":5,
"spacing":{"row":40,"column":30},
"bounds":"flush",
"align":"each",
"resolve":{"scale":{"color":"independent"},"legend":{"color":"independent"}},
"concat":[
{"width":121,"height":87,"title":{"text":"ON parasol","offset":-15.5},"resolve":{"scale":{"x":"independent","y":"independent"}},"layer":[
{"data":{"name":"tr"},"transform":[{"filter":"datum.p==1"},{"fold":["k1","k2","k3"],"as":["g","y"]}],"mark":{"type":"line","color":"#000","strokeWidth":0.8,"clip":true},"encoding":{"x":{"field":"x","type":"quantitative","scale":{"domain":[0,2]},"axis":{"values":[0,1,2],"title":null}},"y":{"field":"y","type":"quantitative","scale":{"domain":[-330,200]},"axis":{"values":[-200,0,200],"title":"voltage (μV)","titlePadding":4}},"detail":{"field":"g"}}},
{"data":{"name":"tr"},"transform":[{"filter":"datum.p==1"},{"fold":["r1","r2","r3","r4","r5","r6"],"as":["g","y"]}],"mark":{"type":"line","color":"#f00","strokeWidth":1.2,"interpolate":"monotone","clip":true},"encoding":{"x":{"field":"x","type":"quantitative","scale":{"domain":[0,2]},"axis":null},"y":{"field":"y","type":"quantitative","scale":{"domain":[-330,200]},"axis":null},"detail":{"field":"g"}}},
{"data":{"name":"tr"},"transform":[{"filter":"datum.p==1"}],"mark":{"type":"line","color":"#000","strokeWidth":2.5,"strokeDash":[5,3],"interpolate":"monotone","clip":true},"encoding":{"x":{"field":"x","type":"quantitative","scale":{"domain":[0,2]},"axis":null},"y":{"field":"m","type":"quantitative","scale":{"domain":[-330,200]},"axis":null}}},
{"data":{"values":[{}]},"mark":{"type":"rect","fill":"#fff","stroke":"#333","strokeWidth":1},"encoding":{"x":{"datum":0,"type":"quantitative","scale":{"domain":[-1.423,1.128]},"axis":null},"x2":{"datum":1},"y":{"datum":0,"type":"quantitative","scale":{"domain":[-0.176,2.765]},"axis":null},"y2":{"datum":1}}},
{"data":{"name":"ins"},"transform":[{"filter":"datum.p==1&&datum.g=='k'"}],"mark":{"type":"line","color":"#000","strokeWidth":1},"encoding":{"x":{"field":"u","type":"quantitative","scale":{"domain":[-1.423,1.128]},"axis":null},"y":{"field":"v","type":"quantitative","scale":{"domain":[-0.176,2.765]},"axis":null}}},
{"data":{"name":"ins"},"transform":[{"filter":"datum.p==1&&datum.g=='r'"}],"mark":{"type":"line","color":"#f00","strokeWidth":1.5},"encoding":{"x":{"field":"u","type":"quantitative","scale":{"domain":[-1.423,1.128]},"axis":null},"y":{"field":"v","type":"quantitative","scale":{"domain":[-0.176,2.765]},"axis":null}}},
{"data":{"name":"ins"},"transform":[{"filter":"datum.p==1&&datum.g=='s'"}],"mark":{"type":"line","color":"#000","strokeWidth":2.5},"encoding":{"x":{"field":"u","type":"quantitative","scale":{"domain":[-1.423,1.128]},"axis":null},"y":{"field":"v","type":"quantitative","scale":{"domain":[-0.176,2.765]},"axis":null}}},
{"data":{"values":[{}]},"mark":{"type":"text","text":"A","fontSize":15,"align":"center","baseline":"middle"},"encoding":{"x":{"datum":-0.868,"type":"quantitative","scale":{"domain":[0,2]},"axis":null},"y":{"datum":297.5,"type":"quantitative","scale":{"domain":[-330,200]},"axis":null}}}
]},
{"width":121,"height":87,"title":"OFF parasol","resolve":{"scale":{"x":"independent","y":"independent"}},"layer":[
{"data":{"name":"tr"},"transform":[{"filter":"datum.p==2"},{"fold":["k1","k2","k3"],"as":["g","y"]}],"mark":{"type":"line","color":"#000","strokeWidth":0.8,"clip":true},"encoding":{"x":{"field":"x","type":"quantitative","scale":{"domain":[0,2]},"axis":{"values":[0,1,2],"title":null}},"y":{"field":"y","type":"quantitative","scale":{"domain":[-170,100]},"axis":{"values":[-100,0,100],"title":null}},"detail":{"field":"g"}}},
{"data":{"name":"tr"},"transform":[{"filter":"datum.p==2"},{"fold":["r1","r2","r3","r4","r5","r6"],"as":["g","y"]}],"mark":{"type":"line","color":"#f00","strokeWidth":1.2,"interpolate":"monotone","clip":true},"encoding":{"x":{"field":"x","type":"quantitative","scale":{"domain":[0,2]},"axis":null},"y":{"field":"y","type":"quantitative","scale":{"domain":[-170,100]},"axis":null},"detail":{"field":"g"}}},
{"data":{"name":"tr"},"transform":[{"filter":"datum.p==2"}],"mark":{"type":"line","color":"#000","strokeWidth":2.5,"strokeDash":[5,3],"interpolate":"monotone","clip":true},"encoding":{"x":{"field":"x","type":"quantitative","scale":{"domain":[0,2]},"axis":null},"y":{"field":"m","type":"quantitative","scale":{"domain":[-170,100]},"axis":null}}},
{"data":{"values":[{}]},"mark":{"type":"rect","fill":"#fff","stroke":"#333","strokeWidth":1},"encoding":{"x":{"datum":0,"type":"quantitative","scale":{"domain":[-1.423,1.128]},"axis":null},"x2":{"datum":1},"y":{"datum":0,"type":"quantitative","scale":{"domain":[-0.176,2.765]},"axis":null},"y2":{"datum":1}}},
{"data":{"name":"ins"},"transform":[{"filter":"datum.p==2&&datum.g=='k'"}],"mark":{"type":"line","color":"#000","strokeWidth":1},"encoding":{"x":{"field":"u","type":"quantitative","scale":{"domain":[-1.423,1.128]},"axis":null},"y":{"field":"v","type":"quantitative","scale":{"domain":[-0.176,2.765]},"axis":null}}},
{"data":{"name":"ins"},"transform":[{"filter":"datum.p==2&&datum.g=='r'"}],"mark":{"type":"line","color":"#f00","strokeWidth":1.5},"encoding":{"x":{"field":"u","type":"quantitative","scale":{"domain":[-1.423,1.128]},"axis":null},"y":{"field":"v","type":"quantitative","scale":{"domain":[-0.176,2.765]},"axis":null}}},
{"data":{"name":"ins"},"transform":[{"filter":"datum.p==2&&datum.g=='s'"}],"mark":{"type":"line","color":"#000","strokeWidth":2.5},"encoding":{"x":{"field":"u","type":"quantitative","scale":{"domain":[-1.423,1.128]},"axis":null},"y":{"field":"v","type":"quantitative","scale":{"domain":[-0.176,2.765]},"axis":null}}}
]},
{"width":121,"height":87,"title":"ON midget","resolve":{"scale":{"x":"independent","y":"independent"}},"layer":[
{"data":{"name":"tr"},"transform":[{"filter":"datum.p==3"},{"fold":["k1","k2","k3"],"as":["g","y"]}],"mark":{"type":"line","color":"#000","strokeWidth":0.8,"clip":true},"encoding":{"x":{"field":"x","type":"quantitative","scale":{"domain":[0,2]},"axis":{"values":[0,1,2],"title":null}},"y":{"field":"y","type":"quantitative","scale":{"domain":[-85,50]},"axis":{"values":[-50,0,50],"title":null}},"detail":{"field":"g"}}},
{"data":{"name":"tr"},"transform":[{"filter":"datum.p==3"},{"fold":["r1","r2","r3","r4","r5","r6"],"as":["g","y"]}],"mark":{"type":"line","color":"#f00","strokeWidth":1.2,"interpolate":"monotone","clip":true},"encoding":{"x":{"field":"x","type":"quantitative","scale":{"domain":[0,2]},"axis":null},"y":{"field":"y","type":"quantitative","scale":{"domain":[-85,50]},"axis":null},"detail":{"field":"g"}}},
{"data":{"name":"tr"},"transform":[{"filter":"datum.p==3"}],"mark":{"type":"line","color":"#000","strokeWidth":2.5,"strokeDash":[5,3],"interpolate":"monotone","clip":true},"encoding":{"x":{"field":"x","type":"quantitative","scale":{"domain":[0,2]},"axis":null},"y":{"field":"m","type":"quantitative","scale":{"domain":[-85,50]},"axis":null}}},
{"data":{"values":[{}]},"mark":{"type":"rect","fill":"#fff","stroke":"#333","strokeWidth":1},"encoding":{"x":{"datum":0,"type":"quantitative","scale":{"domain":[-1.423,1.128]},"axis":null},"x2":{"datum":1},"y":{"datum":0,"type":"quantitative","scale":{"domain":[-0.176,2.765]},"axis":null},"y2":{"datum":1}}},
{"data":{"name":"ins"},"transform":[{"filter":"datum.p==3&&datum.g=='k'"}],"mark":{"type":"line","color":"#000","strokeWidth":1},"encoding":{"x":{"field":"u","type":"quantitative","scale":{"domain":[-1.423,1.128]},"axis":null},"y":{"field":"v","type":"quantitative","scale":{"domain":[-0.176,2.765]},"axis":null}}},
{"data":{"name":"ins"},"transform":[{"filter":"datum.p==3&&datum.g=='r'"}],"mark":{"type":"line","color":"#f00","strokeWidth":1.5},"encoding":{"x":{"field":"u","type":"quantitative","scale":{"domain":[-1.423,1.128]},"axis":null},"y":{"field":"v","type":"quantitative","scale":{"domain":[-0.176,2.765]},"axis":null}}},
{"data":{"name":"ins"},"transform":[{"filter":"datum.p==3&&datum.g=='s'"}],"mark":{"type":"line","color":"#000","strokeWidth":2.5},"encoding":{"x":{"field":"u","type":"quantitative","scale":{"domain":[-1.423,1.128]},"axis":null},"y":{"field":"v","type":"quantitative","scale":{"domain":[-0.176,2.765]},"axis":null}}}
]},
{"width":121,"height":87,"title":"OFF midget","resolve":{"scale":{"x":"independent","y":"independent"}},"layer":[
{"data":{"name":"tr"},"transform":[{"filter":"datum.p==4"},{"fold":["k1","k2","k3"],"as":["g","y"]}],"mark":{"type":"line","color":"#000","strokeWidth":0.8,"clip":true},"encoding":{"x":{"field":"x","type":"quantitative","scale":{"domain":[0,2]},"axis":{"values":[0,1,2],"title":null}},"y":{"field":"y","type":"quantitative","scale":{"domain":[-170,100]},"axis":{"values":[-100,0,100],"title":null}},"detail":{"field":"g"}}},
{"data":{"name":"tr"},"transform":[{"filter":"datum.p==4"},{"fold":["r1","r2","r3","r4","r5","r6"],"as":["g","y"]}],"mark":{"type":"line","color":"#f00","strokeWidth":1.2,"interpolate":"monotone","clip":true},"encoding":{"x":{"field":"x","type":"quantitative","scale":{"domain":[0,2]},"axis":null},"y":{"field":"y","type":"quantitative","scale":{"domain":[-170,100]},"axis":null},"detail":{"field":"g"}}},
{"data":{"name":"tr"},"transform":[{"filter":"datum.p==4"}],"mark":{"type":"line","color":"#000","strokeWidth":2.5,"strokeDash":[5,3],"interpolate":"monotone","clip":true},"encoding":{"x":{"field":"x","type":"quantitative","scale":{"domain":[0,2]},"axis":null},"y":{"field":"m","type":"quantitative","scale":{"domain":[-170,100]},"axis":null}}},
{"data":{"values":[{}]},"mark":{"type":"rect","fill":"#fff","stroke":"#333","strokeWidth":1},"encoding":{"x":{"datum":0,"type":"quantitative","scale":{"domain":[-1.423,1.128]},"axis":null},"x2":{"datum":1},"y":{"datum":0,"type":"quantitative","scale":{"domain":[-0.176,2.765]},"axis":null},"y2":{"datum":1}}},
{"data":{"name":"ins"},"transform":[{"filter":"datum.p==4&&datum.g=='k'"}],"mark":{"type":"line","color":"#000","strokeWidth":1},"encoding":{"x":{"field":"u","type":"quantitative","scale":{"domain":[-1.423,1.128]},"axis":null},"y":{"field":"v","type":"quantitative","scale":{"domain":[-0.176,2.765]},"axis":null}}},
{"data":{"name":"ins"},"transform":[{"filter":"datum.p==4&&datum.g=='r'"}],"mark":{"type":"line","color":"#f00","strokeWidth":1.5},"encoding":{"x":{"field":"u","type":"quantitative","scale":{"domain":[-1.423,1.128]},"axis":null},"y":{"field":"v","type":"quantitative","scale":{"domain":[-0.176,2.765]},"axis":null}}},
{"data":{"name":"ins"},"transform":[{"filter":"datum.p==4&&datum.g=='s'"}],"mark":{"type":"line","color":"#000","strokeWidth":2.5},"encoding":{"x":{"field":"u","type":"quantitative","scale":{"domain":[-1.423,1.128]},"axis":null},"y":{"field":"v","type":"quantitative","scale":{"domain":[-0.176,2.765]},"axis":null}}}
]},
{"width":121,"height":87,"title":"small bistratified","resolve":{"scale":{"x":"independent","y":"independent"}},"layer":[
{"data":{"name":"tr"},"transform":[{"filter":"datum.p==5"},{"fold":["k1","k2","k3"],"as":["g","y"]}],"mark":{"type":"line","color":"#000","strokeWidth":0.8,"clip":true},"encoding":{"x":{"field":"x","type":"quantitative","scale":{"domain":[0,2]},"axis":{"values":[0,1,2],"title":null}},"y":{"field":"y","type":"quantitative","scale":{"domain":[-330,200]},"axis":{"values":[-200,0,200],"title":null}},"detail":{"field":"g"}}},
{"data":{"name":"tr"},"transform":[{"filter":"datum.p==5"},{"fold":["r1","r2","r3","r4","r5","r6"],"as":["g","y"]}],"mark":{"type":"line","color":"#f00","strokeWidth":1.2,"interpolate":"monotone","clip":true},"encoding":{"x":{"field":"x","type":"quantitative","scale":{"domain":[0,2]},"axis":null},"y":{"field":"y","type":"quantitative","scale":{"domain":[-330,200]},"axis":null},"detail":{"field":"g"}}},
{"data":{"name":"tr"},"transform":[{"filter":"datum.p==5"}],"mark":{"type":"line","color":"#000","strokeWidth":2.5,"strokeDash":[5,3],"interpolate":"monotone","clip":true},"encoding":{"x":{"field":"x","type":"quantitative","scale":{"domain":[0,2]},"axis":null},"y":{"field":"m","type":"quantitative","scale":{"domain":[-330,200]},"axis":null}}},
{"data":{"values":[{}]},"mark":{"type":"rect","fill":"#fff","stroke":"#333","strokeWidth":1},"encoding":{"x":{"datum":0,"type":"quantitative","scale":{"domain":[-1.423,1.128]},"axis":null},"x2":{"datum":1},"y":{"datum":0,"type":"quantitative","scale":{"domain":[-0.176,2.765]},"axis":null},"y2":{"datum":1}}},
{"data":{"name":"ins"},"transform":[{"filter":"datum.p==5&&datum.g=='k'"}],"mark":{"type":"line","color":"#000","strokeWidth":1},"encoding":{"x":{"field":"u","type":"quantitative","scale":{"domain":[-1.423,1.128]},"axis":null},"y":{"field":"v","type":"quantitative","scale":{"domain":[-0.176,2.765]},"axis":null}}},
{"data":{"name":"ins"},"transform":[{"filter":"datum.p==5&&datum.g=='r'"}],"mark":{"type":"line","color":"#f00","strokeWidth":1.5},"encoding":{"x":{"field":"u","type":"quantitative","scale":{"domain":[-1.423,1.128]},"axis":null},"y":{"field":"v","type":"quantitative","scale":{"domain":[-0.176,2.765]},"axis":null}}},
{"data":{"name":"ins"},"transform":[{"filter":"datum.p==5&&datum.g=='s'"}],"mark":{"type":"line","color":"#000","strokeWidth":2.5},"encoding":{"x":{"field":"u","type":"quantitative","scale":{"domain":[-1.423,1.128]},"axis":null},"y":{"field":"v","type":"quantitative","scale":{"domain":[-0.176,2.765]},"axis":null}}}
]},
{"width":121,"height":87,"layer":[
{"data":{"name":"ras"},"transform":[{"filter":"datum.p==1"}],"mark":{"type":"point","filled":true,"color":"#000","size":5,"opacity":1},"encoding":{"x":{"field":"t","type":"quantitative","scale":{"domain":[0,2]},"axis":{"values":[0,1,2],"title":"time (ms)","titlePadding":3}},"y":{"field":"n","type":"quantitative","scale":{"domain":[0,50]},"axis":{"values":[0,25,50],"title":"trial","titlePadding":17}}}},
{"data":{"values":[{}]},"mark":{"type":"text","text":"B","fontSize":15,"align":"center","baseline":"middle"},"encoding":{"x":{"datum":-0.884,"type":"quantitative","scale":{"domain":[0,2]}},"y":{"datum":52.9,"type":"quantitative","scale":{"domain":[0,50]}}}}
]},
{"width":121,"height":87,"data":{"name":"ras"},"transform":[{"filter":"datum.p==2"}],"mark":{"type":"point","filled":true,"color":"#000","size":5,"opacity":1},"encoding":{"x":{"field":"t","type":"quantitative","scale":{"domain":[0,2]},"axis":{"values":[0,1,2],"title":null}},"y":{"field":"n","type":"quantitative","scale":{"domain":[0,50]},"axis":{"values":[0,25,50],"title":null}}}},
{"width":121,"height":87,"data":{"name":"ras"},"transform":[{"filter":"datum.p==3"}],"mark":{"type":"point","filled":true,"color":"#000","size":5,"opacity":1},"encoding":{"x":{"field":"t","type":"quantitative","scale":{"domain":[0,2]},"axis":{"values":[0,1,2],"title":null}},"y":{"field":"n","type":"quantitative","scale":{"domain":[0,50]},"axis":{"values":[0,25,50],"title":null}}}},
{"width":121,"height":87,"data":{"name":"ras"},"transform":[{"filter":"datum.p==4"}],"mark":{"type":"point","filled":true,"color":"#000","size":5,"opacity":1},"encoding":{"x":{"field":"t","type":"quantitative","scale":{"domain":[0,2]},"axis":{"values":[0,1,2],"title":null}},"y":{"field":"n","type":"quantitative","scale":{"domain":[0,50]},"axis":{"values":[0,25,50],"title":null}}}},
{"width":121,"height":87,"data":{"name":"ras"},"transform":[{"filter":"datum.p==5"}],"mark":{"type":"point","filled":true,"color":"#000","size":5,"opacity":1},"encoding":{"x":{"field":"t","type":"quantitative","scale":{"domain":[0,2]},"axis":{"values":[0,1,2],"title":null}},"y":{"field":"n","type":"quantitative","scale":{"domain":[0,50]},"axis":{"values":[0,25,50],"title":null}}}},
{"width":121,"height":105,"layer":[
{"data":{"name":"fit"},"transform":[{"filter":"datum.p==1"}],"mark":{"type":"line","color":"#000","strokeWidth":0.8,"interpolate":"monotone"},"encoding":{"x":{"field":"x","type":"quantitative","scale":{"domain":[0,150]},"axis":{"values":[0,50,100,150],"title":"pulse amplitude (pC)","titlePadding":5}},"y":{"field":"y","type":"quantitative","scale":{"domain":[0,1]},"axis":{"values":[0,0.5,1],"title":"response probability","titlePadding":4}}}},
{"data":{"name":"pts"},"transform":[{"filter":"datum.p==1&&datum.k=='f'"}],"mark":{"type":"point","filled":true,"color":"#000","size":42,"opacity":1},"encoding":{"x":{"field":"x","type":"quantitative","scale":{"domain":[0,150]}},"y":{"field":"y","type":"quantitative","scale":{"domain":[0,1]}}}},
{"data":{"name":"pts"},"transform":[{"filter":"datum.p==1&&datum.k=='o'"}],"mark":{"type":"point","filled":true,"fill":"#fff","stroke":"#000","strokeWidth":0.8,"size":38,"opacity":1},"encoding":{"x":{"field":"x","type":"quantitative","scale":{"domain":[0,150]}},"y":{"field":"y","type":"quantitative","scale":{"domain":[0,1]}}}},
{"data":{"name":"pts"},"transform":[{"filter":"datum.p==1&&datum.k=='x'"}],"mark":{"type":"point","shape":"M-1,-1L1,1M-1,1L1,-1","filled":false,"color":"#000","strokeWidth":2,"size":34,"opacity":1},"encoding":{"x":{"field":"x","type":"quantitative","scale":{"domain":[0,150]}},"y":{"field":"y","type":"quantitative","scale":{"domain":[0,1]}}}},
{"data":{"values":[{}]},"mark":{"type":"text","text":"C","fontSize":15,"align":"center","baseline":"middle"},"encoding":{"x":{"datum":-66.9,"type":"quantitative","scale":{"domain":[0,150]}},"y":{"datum":1.067,"type":"quantitative","scale":{"domain":[0,1]}}}}
]},
{"width":121,"height":105,"layer":[
{"data":{"name":"fit"},"transform":[{"filter":"datum.p==2"}],"mark":{"type":"line","color":"#000","strokeWidth":0.8,"interpolate":"monotone"},"encoding":{"x":{"field":"x","type":"quantitative","scale":{"domain":[0,150]},"axis":{"values":[0,50,100,150],"title":null}},"y":{"field":"y","type":"quantitative","scale":{"domain":[0,1]},"axis":{"values":[0,0.5,1],"title":null}}}},
{"data":{"name":"pts"},"transform":[{"filter":"datum.p==2&&datum.k=='f'"}],"mark":{"type":"point","filled":true,"color":"#000","size":42,"opacity":1},"encoding":{"x":{"field":"x","type":"quantitative"},"y":{"field":"y","type":"quantitative"}}},
{"data":{"name":"pts"},"transform":[{"filter":"datum.p==2&&datum.k=='o'"}],"mark":{"type":"point","filled":true,"fill":"#fff","stroke":"#000","strokeWidth":0.8,"size":38,"opacity":1},"encoding":{"x":{"field":"x","type":"quantitative"},"y":{"field":"y","type":"quantitative"}}},
{"data":{"name":"pts"},"transform":[{"filter":"datum.p==2&&datum.k=='x'"}],"mark":{"type":"point","shape":"M-1,-1L1,1M-1,1L1,-1","filled":false,"color":"#000","strokeWidth":2,"size":34,"opacity":1},"encoding":{"x":{"field":"x","type":"quantitative"},"y":{"field":"y","type":"quantitative"}}}
]},
{"width":121,"height":105,"layer":[
{"data":{"name":"fit"},"transform":[{"filter":"datum.p==3"}],"mark":{"type":"line","color":"#000","strokeWidth":0.8,"interpolate":"monotone"},"encoding":{"x":{"field":"x","type":"quantitative","scale":{"domain":[0,150]},"axis":{"values":[0,50,100,150],"title":null}},"y":{"field":"y","type":"quantitative","scale":{"domain":[0,1]},"axis":{"values":[0,0.5,1],"title":null}}}},
{"data":{"name":"pts"},"transform":[{"filter":"datum.p==3&&datum.k=='f'"}],"mark":{"type":"point","filled":true,"color":"#000","size":42,"opacity":1},"encoding":{"x":{"field":"x","type":"quantitative"},"y":{"field":"y","type":"quantitative"}}},
{"data":{"name":"pts"},"transform":[{"filter":"datum.p==3&&datum.k=='o'"}],"mark":{"type":"point","filled":true,"fill":"#fff","stroke":"#000","strokeWidth":0.8,"size":38,"opacity":1},"encoding":{"x":{"field":"x","type":"quantitative"},"y":{"field":"y","type":"quantitative"}}},
{"data":{"name":"pts"},"transform":[{"filter":"datum.p==3&&datum.k=='x'"}],"mark":{"type":"point","shape":"M-1,-1L1,1M-1,1L1,-1","filled":false,"color":"#000","strokeWidth":2,"size":34,"opacity":1},"encoding":{"x":{"field":"x","type":"quantitative"},"y":{"field":"y","type":"quantitative"}}}
]},
{"width":121,"height":105,"layer":[
{"data":{"name":"fit"},"transform":[{"filter":"datum.p==4"}],"mark":{"type":"line","color":"#000","strokeWidth":0.8,"interpolate":"monotone"},"encoding":{"x":{"field":"x","type":"quantitative","scale":{"domain":[0,100]},"axis":{"values":[0,50,100],"title":null}},"y":{"field":"y","type":"quantitative","scale":{"domain":[0,1]},"axis":{"values":[0,0.5,1],"title":null}}}},
{"data":{"name":"pts"},"transform":[{"filter":"datum.p==4&&datum.k=='f'"}],"mark":{"type":"point","filled":true,"color":"#000","size":42,"opacity":1},"encoding":{"x":{"field":"x","type":"quantitative"},"y":{"field":"y","type":"quantitative"}}},
{"data":{"name":"pts"},"transform":[{"filter":"datum.p==4&&datum.k=='o'"}],"mark":{"type":"point","filled":true,"fill":"#fff","stroke":"#000","strokeWidth":0.8,"size":38,"opacity":1},"encoding":{"x":{"field":"x","type":"quantitative"},"y":{"field":"y","type":"quantitative"}}},
{"data":{"name":"pts"},"transform":[{"filter":"datum.p==4&&datum.k=='x'"}],"mark":{"type":"point","shape":"M-1,-1L1,1M-1,1L1,-1","filled":false,"color":"#000","strokeWidth":2,"size":34,"opacity":1},"encoding":{"x":{"field":"x","type":"quantitative"},"y":{"field":"y","type":"quantitative"}}}
]},
{"width":121,"height":105,"layer":[
{"data":{"name":"fit"},"transform":[{"filter":"datum.p==5"}],"mark":{"type":"line","color":"#000","strokeWidth":0.8,"interpolate":"monotone"},"encoding":{"x":{"field":"x","type":"quantitative","scale":{"domain":[0,150]},"axis":{"values":[0,50,100,150],"title":null}},"y":{"field":"y","type":"quantitative","scale":{"domain":[0,1]},"axis":{"values":[0,0.5,1],"title":null}}}},
{"data":{"name":"pts"},"transform":[{"filter":"datum.p==5&&datum.k=='f'"}],"mark":{"type":"point","filled":true,"color":"#000","size":42,"opacity":1},"encoding":{"x":{"field":"x","type":"quantitative"},"y":{"field":"y","type":"quantitative"}}},
{"data":{"name":"pts"},"transform":[{"filter":"datum.p==5&&datum.k=='o'"}],"mark":{"type":"point","filled":true,"fill":"#fff","stroke":"#000","strokeWidth":0.8,"size":38,"opacity":1},"encoding":{"x":{"field":"x","type":"quantitative"},"y":{"field":"y","type":"quantitative"}}},
{"data":{"name":"pts"},"transform":[{"filter":"datum.p==5&&datum.k=='x'"}],"mark":{"type":"point","shape":"M-1,-1L1,1M-1,1L1,-1","filled":false,"color":"#000","strokeWidth":2,"size":34,"opacity":1},"encoding":{"x":{"field":"x","type":"quantitative"},"y":{"field":"y","type":"quantitative"}}}
]},
{"width":121,"height":130,"layer":[
{"data":{"values":[{}]},"mark":{"type":"rect","fill":"#fff","stroke":"#777","strokeWidth":1},"encoding":{"x":{"datum":0,"type":"quantitative","scale":{"domain":[0,1]},"axis":null},"x2":{"datum":1},"y":{"datum":0,"type":"quantitative","scale":{"domain":[0,1.0744]},"axis":null},"y2":{"datum":1}}},
{"data":{"name":"ell"},"transform":[{"filter":"datum.p==1"}],"mark":{"type":"point","filled":true,"opacity":1,"stroke":"#000","strokeWidth":1},"encoding":{"x":{"field":"u","type":"quantitative"},"y":{"field":"v","type":"quantitative"},"size":{"field":"d","type":"quantitative","scale":{"type":"pow","exponent":2,"domain":[0,1],"range":[0,14641]},"legend":null},"shape":{"field":"r","type":"nominal","scale":{"domain":["1.0","1.25","1.5","1.8"],"range":["M1,0C1,0.552,0.552,1,0,1C-0.552,1,-1,0.552,-1,0C-1,-0.552,-0.552,-1,0,-1C0.552,-1,1,-0.552,1,0Z","M1,0C1,0.442,0.552,0.8,0,0.8C-0.552,0.8,-1,0.442,-1,0C-1,-0.442,-0.552,-0.8,0,-0.8C0.552,-0.8,1,-0.442,1,0Z","M1,0C1,0.368,0.552,0.667,0,0.667C-0.552,0.667,-1,0.368,-1,0C-1,-0.368,-0.552,-0.667,0,-0.667C0.552,-0.667,1,-0.368,1,0Z","M1,0C1,0.307,0.552,0.556,0,0.556C-0.552,0.556,-1,0.307,-1,0C-1,-0.307,-0.552,-0.556,0,-0.556C0.552,-0.556,1,-0.307,1,0Z"]},"legend":null},"angle":{"field":"a","type":"quantitative","scale":null},"color":{"field":"c","type":"quantitative","scale":{"domain":[0,0.125,0.375,0.625,0.875,1],"range":["#00008f","#0000ff","#00ffff","#ffff00","#ff0000","#800000"]},"legend":{"orient":"none","legendX":-47.5,"legendY":9,"title":"response probability","titleOrient":"left","titleAnchor":"middle","titleFontSize":11,"titleFontWeight":"normal","titlePadding":24,"gradientLength":121,"gradientThickness":7,"values":[0,0.5,1],"labelOffset":-25,"labelExpr":"datum.value == 0.5 ? datum.label : '\u00a0\u00a0\u00a0' + datum.label","labelFontSize":11,"gradientStrokeWidth":0,"direction":"vertical"}}}},
{"data":{"values":[{}]},"mark":{"type":"text","text":"D","fontSize":15,"align":"center","baseline":"middle"},"encoding":{"x":{"datum":-0.426,"type":"quantitative"},"y":{"datum":1.058,"type":"quantitative"}}}
]},
{"width":121,"height":130,"layer":[
{"data":{"values":[{}]},"mark":{"type":"rect","fill":"#fff","stroke":"#777","strokeWidth":1},"encoding":{"x":{"datum":0,"type":"quantitative","scale":{"domain":[0,1]},"axis":null},"x2":{"datum":1},"y":{"datum":0,"type":"quantitative","scale":{"domain":[0,1.0744]},"axis":null},"y2":{"datum":1}}},
{"data":{"name":"ell"},"transform":[{"filter":"datum.p==2"}],"mark":{"type":"point","filled":true,"opacity":1,"stroke":"#000","strokeWidth":1},"encoding":{"x":{"field":"u","type":"quantitative"},"y":{"field":"v","type":"quantitative"},"size":{"field":"d","type":"quantitative","scale":{"type":"pow","exponent":2,"domain":[0,1],"range":[0,14641]},"legend":null},"shape":{"field":"r","type":"nominal","scale":{"domain":["1.0","1.25","1.5","1.8"],"range":["M1,0C1,0.552,0.552,1,0,1C-0.552,1,-1,0.552,-1,0C-1,-0.552,-0.552,-1,0,-1C0.552,-1,1,-0.552,1,0Z","M1,0C1,0.442,0.552,0.8,0,0.8C-0.552,0.8,-1,0.442,-1,0C-1,-0.442,-0.552,-0.8,0,-0.8C0.552,-0.8,1,-0.442,1,0Z","M1,0C1,0.368,0.552,0.667,0,0.667C-0.552,0.667,-1,0.368,-1,0C-1,-0.368,-0.552,-0.667,0,-0.667C0.552,-0.667,1,-0.368,1,0Z","M1,0C1,0.307,0.552,0.556,0,0.556C-0.552,0.556,-1,0.307,-1,0C-1,-0.307,-0.552,-0.556,0,-0.556C0.552,-0.556,1,-0.307,1,0Z"]},"legend":null},"angle":{"field":"a","type":"quantitative","scale":null},"color":{"field":"c","type":"quantitative","scale":{"domain":[0,0.125,0.375,0.625,0.875,1],"range":["#00008f","#0000ff","#00ffff","#ffff00","#ff0000","#800000"]},"legend":null}}}
]},
{"width":121,"height":130,"layer":[
{"data":{"values":[{}]},"mark":{"type":"rect","fill":"#fff","stroke":"#777","strokeWidth":1},"encoding":{"x":{"datum":0,"type":"quantitative","scale":{"domain":[0,1]},"axis":null},"x2":{"datum":1},"y":{"datum":0,"type":"quantitative","scale":{"domain":[0,1.0744]},"axis":null},"y2":{"datum":1}}},
{"data":{"name":"ell"},"transform":[{"filter":"datum.p==3"}],"mark":{"type":"point","filled":true,"opacity":1,"stroke":"#000","strokeWidth":1},"encoding":{"x":{"field":"u","type":"quantitative"},"y":{"field":"v","type":"quantitative"},"size":{"field":"d","type":"quantitative","scale":{"type":"pow","exponent":2,"domain":[0,1],"range":[0,14641]},"legend":null},"shape":{"field":"r","type":"nominal","scale":{"domain":["1.0","1.25","1.5","1.8"],"range":["M1,0C1,0.552,0.552,1,0,1C-0.552,1,-1,0.552,-1,0C-1,-0.552,-0.552,-1,0,-1C0.552,-1,1,-0.552,1,0Z","M1,0C1,0.442,0.552,0.8,0,0.8C-0.552,0.8,-1,0.442,-1,0C-1,-0.442,-0.552,-0.8,0,-0.8C0.552,-0.8,1,-0.442,1,0Z","M1,0C1,0.368,0.552,0.667,0,0.667C-0.552,0.667,-1,0.368,-1,0C-1,-0.368,-0.552,-0.667,0,-0.667C0.552,-0.667,1,-0.368,1,0Z","M1,0C1,0.307,0.552,0.556,0,0.556C-0.552,0.556,-1,0.307,-1,0C-1,-0.307,-0.552,-0.556,0,-0.556C0.552,-0.556,1,-0.307,1,0Z"]},"legend":null},"angle":{"field":"a","type":"quantitative","scale":null},"color":{"field":"c","type":"quantitative","scale":{"domain":[0,0.125,0.375,0.625,0.875,1],"range":["#00008f","#0000ff","#00ffff","#ffff00","#ff0000","#800000"]},"legend":null}}}
]},
{"width":121,"height":130,"layer":[
{"data":{"values":[{}]},"mark":{"type":"rect","fill":"#fff","stroke":"#777","strokeWidth":1},"encoding":{"x":{"datum":0,"type":"quantitative","scale":{"domain":[0,1]},"axis":null},"x2":{"datum":1},"y":{"datum":0,"type":"quantitative","scale":{"domain":[0,1.0744]},"axis":null},"y2":{"datum":1}}},
{"data":{"name":"ell"},"transform":[{"filter":"datum.p==4"}],"mark":{"type":"point","filled":true,"opacity":1,"stroke":"#000","strokeWidth":1},"encoding":{"x":{"field":"u","type":"quantitative"},"y":{"field":"v","type":"quantitative"},"size":{"field":"d","type":"quantitative","scale":{"type":"pow","exponent":2,"domain":[0,1],"range":[0,14641]},"legend":null},"shape":{"field":"r","type":"nominal","scale":{"domain":["1.0","1.25","1.5","1.8"],"range":["M1,0C1,0.552,0.552,1,0,1C-0.552,1,-1,0.552,-1,0C-1,-0.552,-0.552,-1,0,-1C0.552,-1,1,-0.552,1,0Z","M1,0C1,0.442,0.552,0.8,0,0.8C-0.552,0.8,-1,0.442,-1,0C-1,-0.442,-0.552,-0.8,0,-0.8C0.552,-0.8,1,-0.442,1,0Z","M1,0C1,0.368,0.552,0.667,0,0.667C-0.552,0.667,-1,0.368,-1,0C-1,-0.368,-0.552,-0.667,0,-0.667C0.552,-0.667,1,-0.368,1,0Z","M1,0C1,0.307,0.552,0.556,0,0.556C-0.552,0.556,-1,0.307,-1,0C-1,-0.307,-0.552,-0.556,0,-0.556C0.552,-0.556,1,-0.307,1,0Z"]},"legend":null},"angle":{"field":"a","type":"quantitative","scale":null},"color":{"field":"c","type":"quantitative","scale":{"domain":[0,0.125,0.375,0.625,0.875,1],"range":["#00008f","#0000ff","#00ffff","#ffff00","#ff0000","#800000"]},"legend":null}}}
]},
{"width":121,"height":130,"layer":[
{"data":{"values":[{}]},"mark":{"type":"rect","fill":"#fff","stroke":"#777","strokeWidth":1},"encoding":{"x":{"datum":0,"type":"quantitative","scale":{"domain":[0,1]},"axis":null},"x2":{"datum":1},"y":{"datum":0,"type":"quantitative","scale":{"domain":[0,1.0744]},"axis":null},"y2":{"datum":1}}},
{"data":{"name":"ell"},"transform":[{"filter":"datum.p==5"}],"mark":{"type":"point","filled":true,"opacity":1,"stroke":"#000","strokeWidth":1},"encoding":{"x":{"field":"u","type":"quantitative"},"y":{"field":"v","type":"quantitative"},"size":{"field":"d","type":"quantitative","scale":{"type":"pow","exponent":2,"domain":[0,1],"range":[0,14641]},"legend":null},"shape":{"field":"r","type":"nominal","scale":{"domain":["1.0","1.25","1.5","1.8"],"range":["M1,0C1,0.552,0.552,1,0,1C-0.552,1,-1,0.552,-1,0C-1,-0.552,-0.552,-1,0,-1C0.552,-1,1,-0.552,1,0Z","M1,0C1,0.442,0.552,0.8,0,0.8C-0.552,0.8,-1,0.442,-1,0C-1,-0.442,-0.552,-0.8,0,-0.8C0.552,-0.8,1,-0.442,1,0Z","M1,0C1,0.368,0.552,0.667,0,0.667C-0.552,0.667,-1,0.368,-1,0C-1,-0.368,-0.552,-0.667,0,-0.667C0.552,-0.667,1,-0.368,1,0Z","M1,0C1,0.307,0.552,0.556,0,0.556C-0.552,0.556,-1,0.307,-1,0C-1,-0.307,-0.552,-0.556,0,-0.556C0.552,-0.556,1,-0.307,1,0Z"]},"legend":null},"angle":{"field":"a","type":"quantitative","scale":null},"color":{"field":"c","type":"quantitative","scale":{"domain":[0,0.125,0.375,0.625,0.875,1],"range":["#00008f","#0000ff","#00ffff","#ffff00","#ff0000","#800000"]},"legend":null}}}
]}
]
}
